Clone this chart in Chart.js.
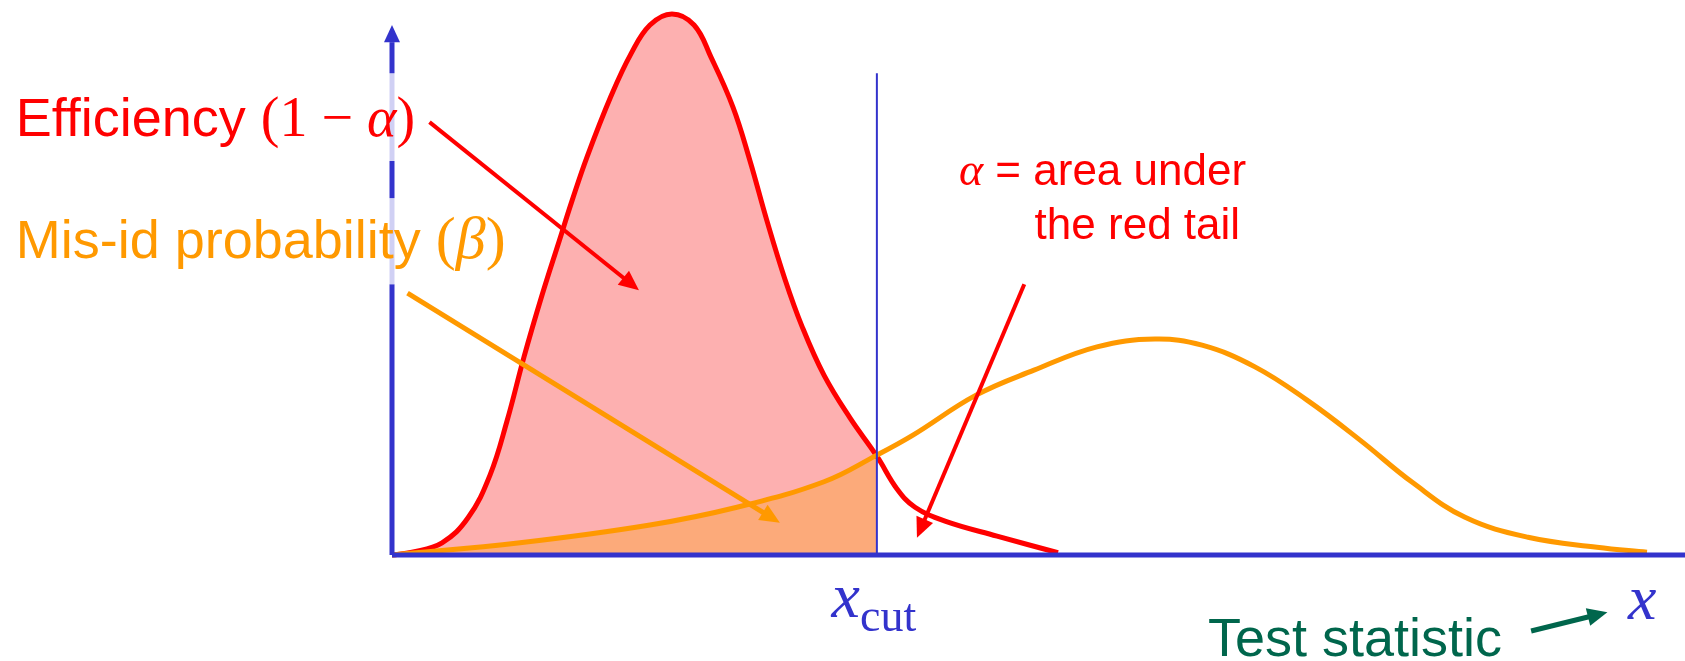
<!DOCTYPE html>
<html>
<head>
<meta charset="utf-8">
<script src="https://cdn.jsdelivr.net/npm/chart.js@4.4.0/dist/chart.umd.min.js"></script>
<style>
  html, body { margin: 0; padding: 0; background: #fff; }
  #wrap { width: 1685px; height: 661px; position: relative; }
</style>
</head>
<body>
<div id="wrap"><canvas id="myChart"></canvas></div>
<script>
// x = test statistic (0 at the vertical axis), y = density (0 on the x axis)
const redX = [0, 0.155, 0.387, 0.588, 0.758, 0.889, 1.021, 1.160, 1.292, 1.392, 1.508, 1.694, 1.848, 1.995, 2.165, 2.336, 2.467, 2.637, 2.769, 2.900, 3.039, 3.171, 3.341, 3.542, 3.75, 3.906, 4.045, 4.277, 4.679, 5.151];
const redY = [0, 0.5, 2.2, 6.7, 14.4, 24.1, 35.7, 46.8, 56.5, 63.8, 71.7, 82.7, 90.3, 95.5, 97.5, 95.5, 89.7, 80.7, 71.0, 60.2, 49.7, 41.2, 32.4, 24.7, 17.8, 11.9, 8.6, 6.1, 3.4, 0.4];

const orangeX = [0, 0.990, 1.995, 2.668, 3.341, 3.75, 4.029, 4.517, 4.965, 5.452, 5.901, 6.265, 6.674, 7.077, 7.487, 7.896, 8.299, 8.786, 9.319, 9.706];
const orangeY = [0, 2.2, 5.4, 8.6, 13.2, 18.0, 21.6, 28.8, 33.3, 37.5, 38.9, 37.8, 33.9, 27.9, 20.7, 13.0, 6.8, 3.2, 1.4, 0.5];

const xCut = 3.75;
const xCutTop = 86.8;
const xMax = 10;
const yMax = 100;

// y axis: stops where the line switches between solid and faded
const yAxisStops = [0, 48.8, 64.3, 71.0, 86.8, 92.4];
const yAxisTip = 95.5;

const blue = '#3333cc';
const fadedBlue = '#d0d0f4';
const red = '#ff0000';
const orange = '#ff9900';
const green = '#00664c';

const toPts = (xs, ys) => xs.map((x, i) => ({ x: x, y: ys[i] }));

// pointers: from / to in data units
const pointers = [
  { from: [0.29, 78.0], to: [1.91, 47.7], color: red, w: 4 },
  { from: [0.12, 47.2], to: [3.00, 5.8], color: orange, w: 5 },
  { from: [4.89, 48.8], to: [4.06, 3.1], color: red, w: 4 },
  { from: [8.81, -13.7], to: [9.40, -10.3], color: green, w: 5 }
];

const SANS = '"Liberation Sans", Arial, sans-serif';
const SERIF = '"Liberation Serif", "Times New Roman", serif';

const labels = [
  { at: [-2.91, 75.5], runs: [
    { t: 'Efficiency ', font: '54px ' + SANS, color: red },
    { t: '(1 \u2212 ', font: '56px ' + SERIF, color: red },
    { t: '\u03B1', font: 'italic 56px ' + SERIF, color: red },
    { t: ')', font: '56px ' + SERIF, color: red }
  ]},
  { at: [-2.91, 53.6], runs: [
    { t: 'Mis-id probability ', font: '54px ' + SANS, color: orange },
    { t: '(', font: '60px ' + SERIF, color: orange },
    { t: '\u03B2', font: 'italic 60px ' + SERIF, color: orange },
    { t: ')', font: '60px ' + SERIF, color: orange }
  ]},
  { at: [4.385, 66.7], runs: [
    { t: '\u03B1', font: 'italic 46px ' + SERIF, color: red },
    { t: ' = area under', font: '44px ' + SANS, color: red }
  ]},
  { at: [4.97, 56.9], runs: [
    { t: 'the red tail', font: '44px ' + SANS, color: red }
  ]},
  { at: [3.40, -11.2], runs: [
    { t: 'x', font: 'italic 64px ' + SERIF, color: blue },
    { t: 'cut', font: '46px ' + SERIF, color: blue, dy: 14 }
  ]},
  { at: [6.31, -18.2], runs: [
    { t: 'Test statistic', font: '54px ' + SANS, color: green }
  ]},
  { at: [9.56, -11.5], runs: [
    { t: 'x', font: 'italic 64px ' + SERIF, color: blue }
  ]}
];

function drawPointer(ctx, x1, y1, x2, y2, color, w) {
  const ang = Math.atan2(y2 - y1, x2 - x1);
  const head = 20, half = 9;
  const bx = x2 - head * Math.cos(ang), by = y2 - head * Math.sin(ang);
  ctx.strokeStyle = color;
  ctx.lineWidth = w;
  ctx.beginPath();
  ctx.moveTo(x1, y1);
  ctx.lineTo(bx + 2 * Math.cos(ang), by + 2 * Math.sin(ang));
  ctx.stroke();
  ctx.fillStyle = color;
  ctx.beginPath();
  ctx.moveTo(x2, y2);
  ctx.lineTo(bx - half * Math.sin(ang), by + half * Math.cos(ang));
  ctx.lineTo(bx + half * Math.sin(ang), by - half * Math.cos(ang));
  ctx.closePath();
  ctx.fill();
}

const annotate = {
  id: 'annotate',
  afterDraw(chart) {
    const ctx = chart.ctx;
    const sx = chart.scales.x, sy = chart.scales.y;
    ctx.save();

    // arrow head of the y axis
    const ax = sx.getPixelForValue(0);
    const tip = sy.getPixelForValue(yAxisTip);
    const base = sy.getPixelForValue(yAxisStops[yAxisStops.length - 1]);
    ctx.fillStyle = blue;
    ctx.beginPath();
    ctx.moveTo(ax, tip);
    ctx.lineTo(ax - 8, base);
    ctx.lineTo(ax + 8, base);
    ctx.closePath();
    ctx.fill();

    pointers.forEach(p => {
      drawPointer(ctx,
        sx.getPixelForValue(p.from[0]), sy.getPixelForValue(p.from[1]),
        sx.getPixelForValue(p.to[0]), sy.getPixelForValue(p.to[1]),
        p.color, p.w);
    });

    ctx.textBaseline = 'alphabetic';
    ctx.textAlign = 'left';
    labels.forEach(l => {
      let x = sx.getPixelForValue(l.at[0]);
      const y = sy.getPixelForValue(l.at[1]);
      l.runs.forEach(r => {
        ctx.font = r.font;
        ctx.fillStyle = r.color;
        ctx.fillText(r.t, x, y + (r.dy || 0));
        x += ctx.measureText(r.t).width;
      });
    });
    ctx.restore();
  }
};

const config = {
  type: 'scatter',
  data: {
    datasets: [
      {
        label: 'x axis',
        data: [{ x: 0, y: 0 }, { x: xMax, y: 0 }],
        borderColor: blue,
        borderWidth: 5,
        showLine: true,
        pointRadius: 0
      },
      {
        label: 'y axis',
        data: yAxisStops.map(v => ({ x: 0, y: v })),
        borderColor: blue,
        borderWidth: 5,
        showLine: true,
        pointRadius: 0,
        segment: {
          borderColor: c => (c.p0DataIndex === 1 || c.p0DataIndex === 3) ? fadedBlue : blue
        }
      },
      {
        label: 'x cut',
        data: [{ x: xCut, y: 0 }, { x: xCut, y: xCutTop }],
        borderColor: blue,
        borderWidth: 2,
        showLine: true,
        pointRadius: 0
      },
      {
        label: 'background',
        data: toPts(orangeX, orangeY),
        borderColor: orange,
        borderWidth: 5,
        showLine: true,
        pointRadius: 0,
        tension: 0.4,
        fill: 'origin',
        backgroundColor: '#fcaa7a',
        segment: {
          backgroundColor: c => c.p1.parsed.x <= xCut + 1e-9 ? '#fcaa7a' : 'rgba(0,0,0,0)'
        }
      },
      {
        label: 'signal',
        data: toPts(redX, redY),
        borderColor: red,
        borderWidth: 5,
        showLine: true,
        pointRadius: 0,
        tension: 0.4,
        fill: 'origin',
        backgroundColor: '#fdb0b0',
        segment: {
          backgroundColor: c => c.p1.parsed.x <= xCut + 1e-9 ? '#fdb0b0' : 'rgba(0,0,0,0)'
        }
      }
    ]
  },
  options: {
    responsive: true,
    maintainAspectRatio: false,
    animation: false,
    clip: false,
    layout: { padding: { left: 392, right: 0, top: 0, bottom: 106 } },
    scales: {
      x: { type: 'linear', min: 0, max: xMax, display: false },
      y: { type: 'linear', min: 0, max: yMax, display: false }
    },
    plugins: {
      legend: { display: false },
      tooltip: { enabled: false },
      filler: { drawTime: 'beforeDatasetsDraw' }
    }
  },
  plugins: [annotate]
};

const myChart = new Chart(document.getElementById('myChart'), config);
</script>
</body>
</html>
